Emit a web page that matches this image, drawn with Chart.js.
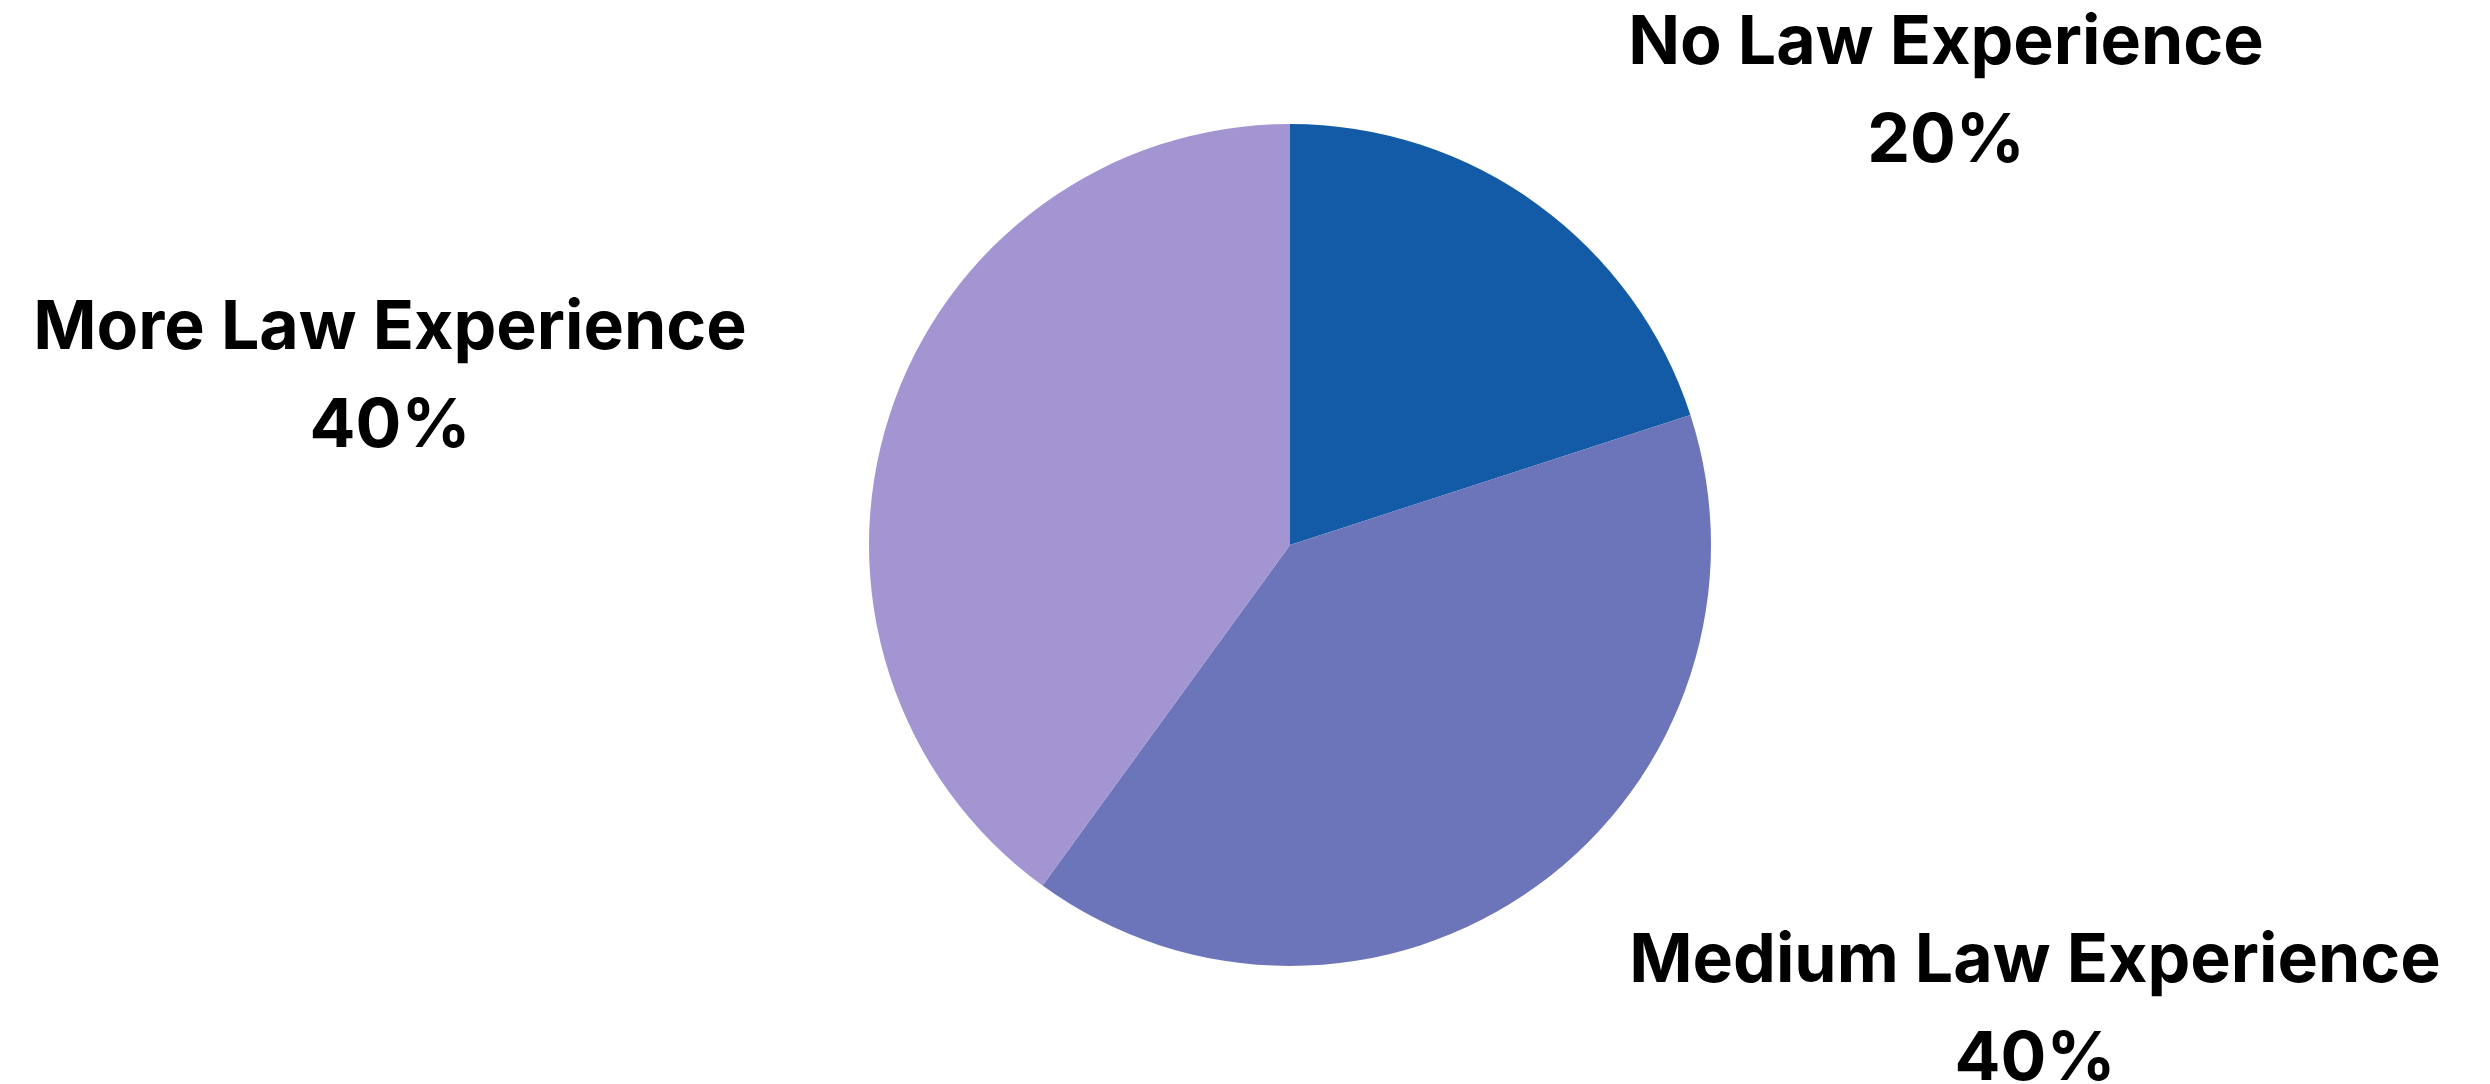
<!DOCTYPE html>
<html>
<head>
<meta charset="utf-8">
<script src="https://cdn.jsdelivr.net/npm/chart.js@4"></script>
<style>
  html, body { margin: 0; padding: 0; background: #fff; }
  #wrap { width: 2490px; height: 1084px; }
</style>
</head>
<body>
<div id="wrap"><canvas id="pieChart"></canvas></div>
<script>
const categories = ['No Law Experience', 'Medium Law Experience', 'More Law Experience'];
const shares = [20, 40, 40];
const sliceColors = ['#135ba6', '#6d75ba', '#a395d1'];

// Beschriftung neben den Stücken (Name + Prozent)
const sliceLabels = {
  id: 'sliceLabels',
  afterDraw(chart, args, opts) {
    const ctx = chart.ctx;
    const total = shares.reduce((a, b) => a + b, 0);
    ctx.save();
    ctx.fillStyle = '#000';
    ctx.textAlign = 'center';
    ctx.textBaseline = 'alphabetic';
    ctx.font = opts.font;
    categories.forEach((name, i) => {
      const p = opts.anchors[i];
      const pct = Math.round(shares[i] / total * 100) + '%';
      ctx.fillText(name, p.x, p.y);
      ctx.fillText(pct, p.x, p.y + opts.lineGap);
    });
    ctx.restore();
  }
};

new Chart(document.getElementById('pieChart'), {
  type: 'pie',
  data: {
    labels: categories,
    datasets: [{
      data: shares,
      backgroundColor: sliceColors,
      borderWidth: 0
    }]
  },
  options: {
    responsive: true,
    maintainAspectRatio: false,
    animation: false,
    layout: { padding: { top: 124, bottom: 118, left: 90, right: 0 } },
    plugins: {
      legend: { display: false },
      tooltip: { enabled: false },
      sliceLabels: {
        font: '700 68px Inter',
        lineGap: 98,
        anchors: [
          { x: 1946, y: 64 },
          { x: 2035, y: 982 },
          { x: 390, y: 349 }
        ]
      }
    }
  },
  plugins: [sliceLabels]
});
</script>
</body>
</html>
